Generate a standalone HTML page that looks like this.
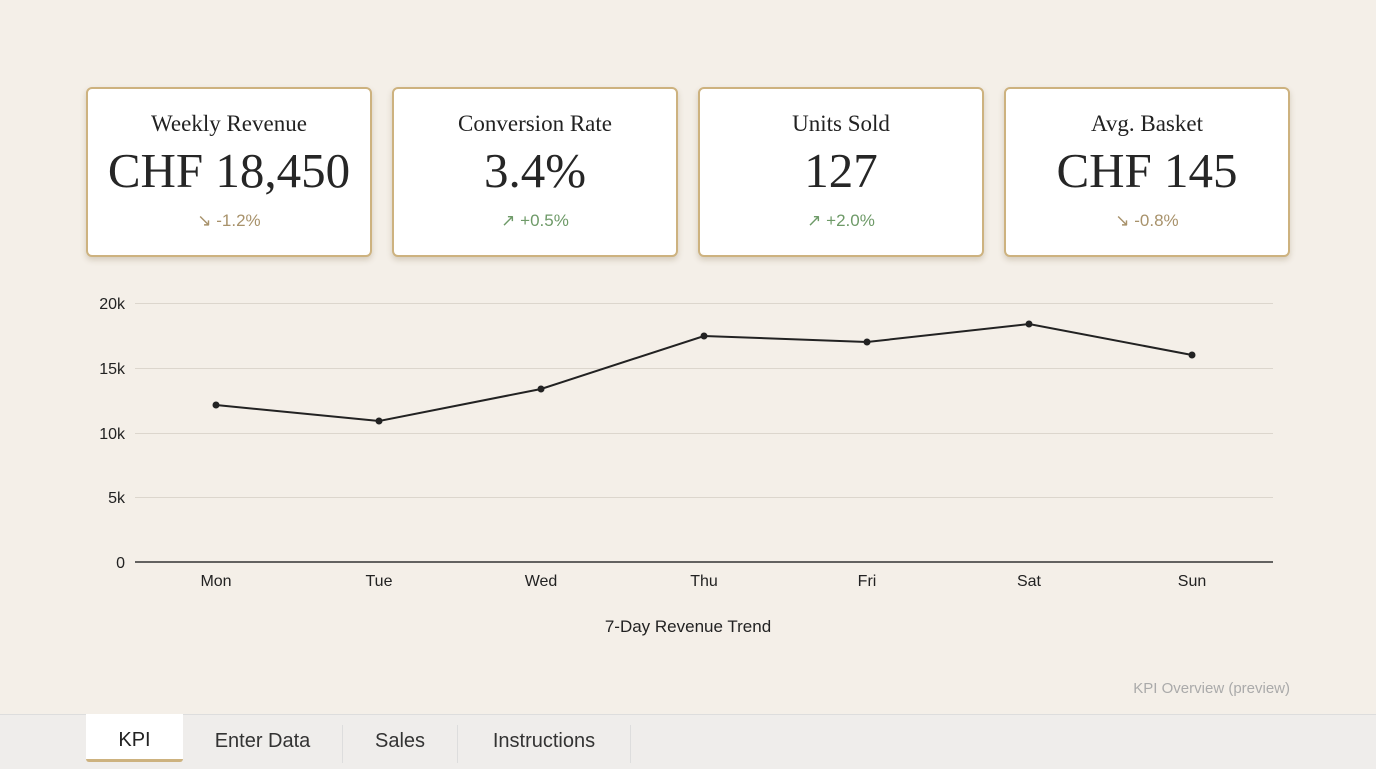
<!DOCTYPE html>
<html><head><meta charset="utf-8"><style>
body{margin:0;width:1376px;height:768px;background:#f4efe8;position:relative;overflow:hidden;font-family:"Liberation Sans",sans-serif}
.card{position:absolute;top:87px;width:282px;height:166px;background:#fff;border:2px solid #cdb27f;border-radius:6px;box-shadow:0 3px 6px rgba(120,100,60,.25);text-align:center}
.t{font-family:"Liberation Serif",serif;font-size:23px;color:#222;margin-top:22px}
.v{font-family:"Liberation Serif",serif;font-size:49px;color:#262626;margin-top:6px;line-height:56px}
.d{font-size:17px;margin-top:12px}
.dn{color:#a8926b}.up{color:#6e9a68}
.tabs{position:absolute;left:0;top:714px;width:1376px;height:54px;background:#efedeb;border-top:1px solid #ddd}
.tab{position:absolute;top:0;height:44px;line-height:52px;font-size:20px;color:#333;text-align:center}
.sep{position:absolute;top:10px;width:1px;height:38px;background:#ddd}
</style></head><body>
<div class="card" style="left:86px"><div class="t">Weekly Revenue</div><div class="v">CHF 18,450</div><div class="d dn">↘ -1.2%</div></div>
<div class="card" style="left:392px"><div class="t">Conversion Rate</div><div class="v">3.4%</div><div class="d up">↗ +0.5%</div></div>
<div class="card" style="left:698px"><div class="t">Units Sold</div><div class="v">127</div><div class="d up">↗ +2.0%</div></div>
<div class="card" style="left:1004px"><div class="t">Avg. Basket</div><div class="v">CHF 145</div><div class="d dn">↘ -0.8%</div></div>
<svg style="position:absolute;left:0;top:0" width="1376" height="714" font-family="Liberation Sans, sans-serif">
<g stroke="#dcd6cd" stroke-width="1">
<line x1="135" x2="1273" y1="303.5" y2="303.5"/><line x1="135" x2="1273" y1="368.5" y2="368.5"/>
<line x1="135" x2="1273" y1="433.5" y2="433.5"/><line x1="135" x2="1273" y1="497.5" y2="497.5"/></g>
<line x1="135" x2="1273" y1="562" y2="562" stroke="#333" stroke-width="1.5"/>
<g font-size="16" fill="#222" text-anchor="end">
<text x="125" y="309">20k</text><text x="125" y="374">15k</text><text x="125" y="439">10k</text><text x="125" y="503">5k</text><text x="125" y="568">0</text></g>
<g font-size="16" fill="#222" text-anchor="middle">
<text x="216" y="586">Mon</text><text x="379" y="586">Tue</text><text x="541" y="586">Wed</text><text x="704" y="586">Thu</text><text x="867" y="586">Fri</text><text x="1029" y="586">Sat</text><text x="1192" y="586">Sun</text>
<text x="688" y="632" font-size="17">7-Day Revenue Trend</text></g>
<polyline fill="none" stroke="#222" stroke-width="2" points="216,405 379,421 541,389 704,336 867,342 1029,324 1192,355"/>
<g fill="#222"><circle cx="216" cy="405" r="3.5"/><circle cx="379" cy="421" r="3.5"/><circle cx="541" cy="389" r="3.5"/><circle cx="704" cy="336" r="3.5"/><circle cx="867" cy="342" r="3.5"/><circle cx="1029" cy="324" r="3.5"/><circle cx="1192" cy="355" r="3.5"/></g>
<text x="1290" y="693" font-size="15" fill="#aaa" text-anchor="end">KPI Overview (preview)</text>
</svg>
<div class="tabs">
<div class="tab" style="left:86px;width:97px;background:#fff;border-bottom:3px solid #cdb27f;border-radius:0 0 3px 3px;color:#222;top:-1px;height:45px">KPI</div>
<div class="tab" style="left:190px;width:145px">Enter Data</div>
<div class="sep" style="left:342px"></div>
<div class="tab" style="left:343px;width:114px">Sales</div>
<div class="sep" style="left:457px"></div>
<div class="tab" style="left:458px;width:172px">Instructions</div>
<div class="sep" style="left:630px"></div>
</div>
</body></html>
